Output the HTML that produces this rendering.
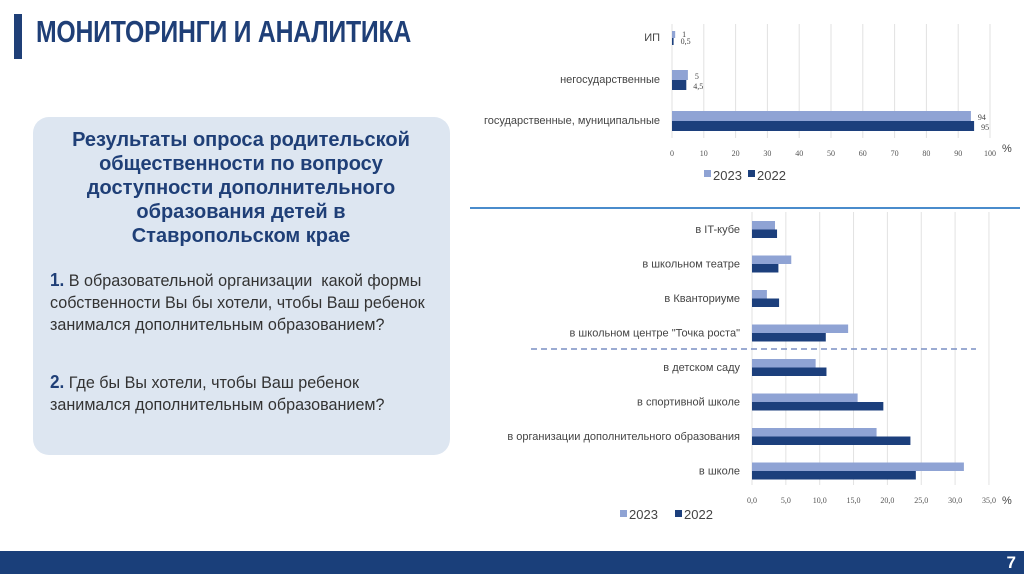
<!DOCTYPE html>
<html><head><meta charset="utf-8">
<style>
body{margin:0;width:1024px;height:574px;overflow:hidden;background:#fff;font-family:"Liberation Sans",sans-serif;position:relative}
.abs{position:absolute}
#title{left:36px;top:14px;font-weight:bold;font-size:31px;color:#1f3f77;white-space:nowrap;letter-spacing:-0.3px;transform:scaleX(0.80);transform-origin:left top}
#box{left:33px;top:117px;width:417px;height:338px;background:#dde6f1;border-radius:16px}
#head{left:56px;top:128px;width:370px;text-align:center;font-weight:bold;font-size:20px;line-height:24px;color:#1f3f77}
.q{left:50px;width:410px;font-size:17px;line-height:22px;color:#333;transform:scaleX(0.95);transform-origin:left top}
.q b{color:#1f3f77;font-size:18px}
svg{position:absolute;left:0;top:0}
</style></head><body>
<div class="abs" style="left:14px;top:14px;width:8px;height:45px;background:#1f3f77"></div>
<div id="title" class="abs">МОНИТОРИНГИ И АНАЛИТИКА</div>
<div id="box" class="abs"></div>
<div id="head" class="abs">Результаты опроса родительской общественности по вопросу доступности дополнительного образования детей в Ставропольском крае</div>
<div class="abs q" style="top:269px"><b>1.</b> В образовательной организации&nbsp; какой формы<br>собственности Вы бы хотели, чтобы Ваш ребенок<br>занимался дополнительным образованием?</div>
<div class="abs q" style="top:371px"><b>2.</b> Где бы Вы хотели, чтобы Ваш ребенок<br>занимался дополнительным образованием?</div>
<div class="abs" style="left:470px;top:207px;width:550px;height:2px;background:#4a8ccc"></div>
<div class="abs" style="left:0;top:551px;width:1024px;height:23px;background:#1a3f7a"></div>
<div class="abs" style="right:8px;top:553px;color:#fff;font-weight:bold;font-size:17px">7</div>
<svg id="svg" width="1024" height="574"></svg>
<script>
const c1Cats=["ИП","негосударственные","государственные, муниципальные"];
const c1V2023=[1,5,94];
const c1V2022=[0.5,4.5,95];
const c1Labels2023=["1","5","94"];
const c1Labels2022=["0,5","4,5","95"];
const c1Ticks=[0,10,20,30,40,50,60,70,80,90,100];
const c2Cats=["в IT-кубе","в школьном театре","в Кванториуме","в школьном центре \"Точка роста\"","в детском саду","в спортивной школе","в организации дополнительного образования","в школе"];
const c2V2023=[3.4,5.8,2.2,14.2,9.4,15.6,18.4,31.3];
const c2V2022=[3.7,3.9,4.0,10.9,11.0,19.4,23.4,24.2];
const c2Ticks=[0,5,10,15,20,25,30,35];
const c2TickLabels=["0,0","5,0","10,0","15,0","20,0","25,0","30,0","35,0"];
const C23="#8fa3d4",C22="#1c3f7c";
const NS="http://www.w3.org/2000/svg",svg=document.getElementById('svg');
function mk(t,a,txt){const e=document.createElementNS(NS,t);for(const k in a)e.setAttribute(k,a[k]);if(txt!==undefined)e.textContent=txt;svg.appendChild(e);return e;}
// chart 1
const x1=v=>672+v*3.18, y1=i=>31+i*40;
c1Ticks.forEach(t=>{const g=mk('line',{x1:x1(t),x2:x1(t),y1:24,y2:138,stroke:'#e2e2e2'});

const l=mk('text',{x:x1(t),y:156,'font-size':8,fill:'#555','text-anchor':'middle','font-family':'Liberation Serif'},t);
});
mk('text',{x:1002,y:152,'font-size':11,fill:'#444'},'%');
c1Cats.forEach((c,i)=>{const y=y1(i)+(i==1?-1:0), h=i==0?7:10;
const t=mk('text',{x:660,y:y+h+3,'font-size':11,fill:'#444','text-anchor':'end'},c);

const a=mk('rect',{x:x1(0),y:y,width:x1(c1V2023[i])-x1(0),height:h,fill:C23});

const b=mk('rect',{x:x1(0),y:y+h,width:x1(c1V2022[i])-x1(0),height:h,fill:C22});

mk('text',{x:x1(c1V2023[i])+7,y:y+h-1,'font-size':8,fill:'#444','font-family':'Liberation Serif'},c1Labels2023[i]);
mk('text',{x:x1(c1V2022[i])+7,y:y+2*h-1,'font-size':8,fill:'#444','font-family':'Liberation Serif'},c1Labels2022[i]);});
mk('rect',{x:704,y:170,width:7,height:7,fill:C23});mk('text',{x:713,y:180,'font-size':13,fill:'#444'},'2023');
mk('rect',{x:748,y:170,width:7,height:7,fill:C22});mk('text',{x:757,y:180,'font-size':13,fill:'#444'},'2022');
// chart 2
const x2=v=>752+v*6.77, y2=i=>221+i*34.5;
c2Ticks.forEach((t,k)=>{const g=mk('line',{x1:x2(t),x2:x2(t),y1:212,y2:485,stroke:'#e2e2e2'});

const l=mk('text',{x:x2(t),y:503,'font-size':8,fill:'#555','text-anchor':'middle','font-family':'Liberation Serif'},c2TickLabels[k]);
});
mk('text',{x:1002,y:504,'font-size':11,fill:'#444'},'%');
c2Cats.forEach((c,i)=>{const y=y2(i);
const t=mk('text',{x:740,y:y+12,'font-size':11,fill:'#444','text-anchor':'end'},c);

const a=mk('rect',{x:x2(0),y:y,width:x2(c2V2023[i])-x2(0),height:8.5,fill:C23});

const b=mk('rect',{x:x2(0),y:y+8.5,width:x2(c2V2022[i])-x2(0),height:8.5,fill:C22});
});
const d=mk('line',{x1:531,x2:976,y1:349,y2:349,stroke:'#7a8fc4','stroke-width':1.5,'stroke-dasharray':'6,4'});

mk('rect',{x:620,y:510,width:7,height:7,fill:C23});mk('text',{x:629,y:519,'font-size':13,fill:'#444'},'2023');
mk('rect',{x:675,y:510,width:7,height:7,fill:C22});mk('text',{x:684,y:519,'font-size':13,fill:'#444'},'2022');
</script>
</body></html>
